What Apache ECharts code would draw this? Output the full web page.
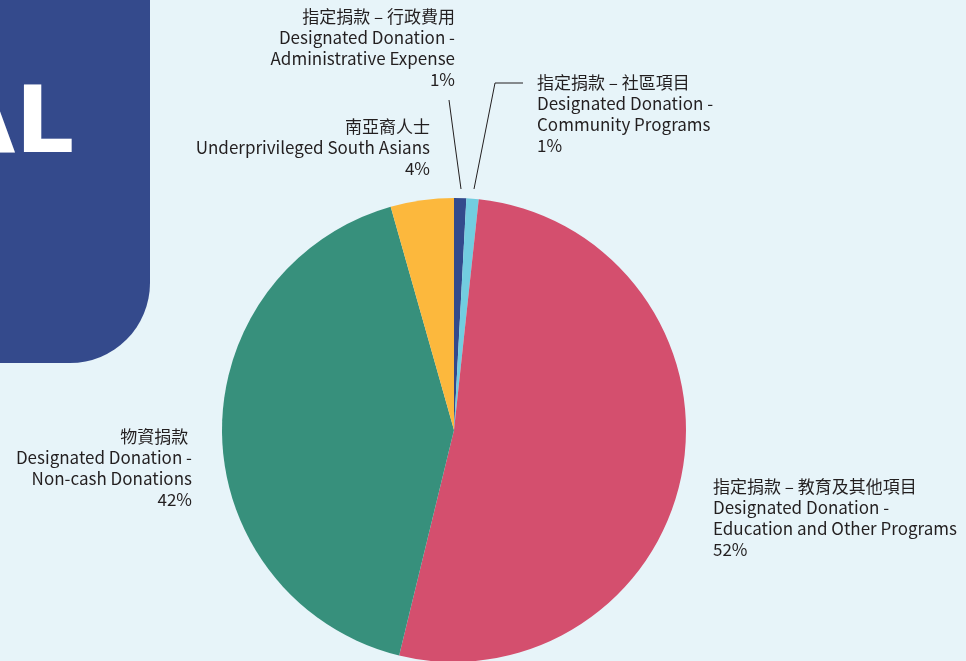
<!DOCTYPE html>
<html><head><meta charset="utf-8">
<script src="https://cdn.jsdelivr.net/npm/echarts@6/dist/echarts.min.js"></script>
<style>html,body{margin:0;padding:0;background:#e7f4f9;}#c{width:966px;height:661px;}</style>
</head><body><div id="c"></div>
<script>
const namesZh = ['指定捐款 – 行政費用','指定捐款 – 社區項目','指定捐款 – 教育及其他項目','物資捐款 ','南亞裔人士'];
const namesEn = ['Designated Donation -\nAdministrative Expense','Designated Donation -\nCommunity Programs','Designated Donation -\nEducation and Other Programs','Designated Donation -\nNon-cash Donations','Underprivileged South Asians'];
const values = [0.85, 0.85, 52.1, 41.8, 4.4];
const colors = ['#334a8c','#72cde0','#d44f6e','#37907c','#fcb83d'];

const font = "'Liberation Sans Narrow','Noto Sans CJK TC',sans-serif";
// label anchor positions (layout only)
const anchors = [
  {x:455, y:6, align:'right'},
  {x:537, y:72, align:'left'},
  {x:713, y:476, align:'left'},
  {x:192, y:426, align:'right'},
  {x:430, y:116, align:'right'}
];
const lines = {
  0: [[461,189],[455,145],[449,100]],
  1: [[474,189],[495,83],[523,83]]
};

const data = values.map((v,i)=>({
  value: v,
  name: namesEn[i],
  itemStyle: {color: colors[i]},
  label: {align: anchors[i].align},
  labelLine: {show: i < 2}
}));

const chart = echarts.init(document.getElementById('c'));
chart.setOption({
  backgroundColor: '#e7f4f9',
  animation: false,
  graphic: [
    {type:'rect', shape:{x:-100, y:-100, width:250, height:463, r:80}, style:{fill:'#344a8c'}},
    {type:'text', style:{text:'AL', x:74, y:128, align:'right', verticalAlign:'middle', fill:'#ffffff', font:"bold 92px 'DejaVu Sans'"}}
  ],
  series: [{
    type: 'pie',
    center: [454, 430],
    radius: 232,
    startAngle: 90,
    clockwise: true,
    data: data,
    label: {
      show: true,
      overflow: 'none',
      formatter: p => namesZh[p.dataIndex] + '\n' + namesEn[p.dataIndex] + '\n' + Math.round(values[p.dataIndex]) + '%',
      fontFamily: font,
      fontSize: 17,
      lineHeight: 21,
      color: '#231f20'
    },
    labelLine: {lineStyle: {color: '#231f20', width: 1}},
    labelLayout: function (params) {
      const a = anchors[params.dataIndex];
      const r = {x: a.x, y: a.y, align: a.align, verticalAlign: 'top'};
      if (lines[params.dataIndex]) r.labelLinePoints = lines[params.dataIndex];
      return r;
    }
  }]
});
</script></body></html>
